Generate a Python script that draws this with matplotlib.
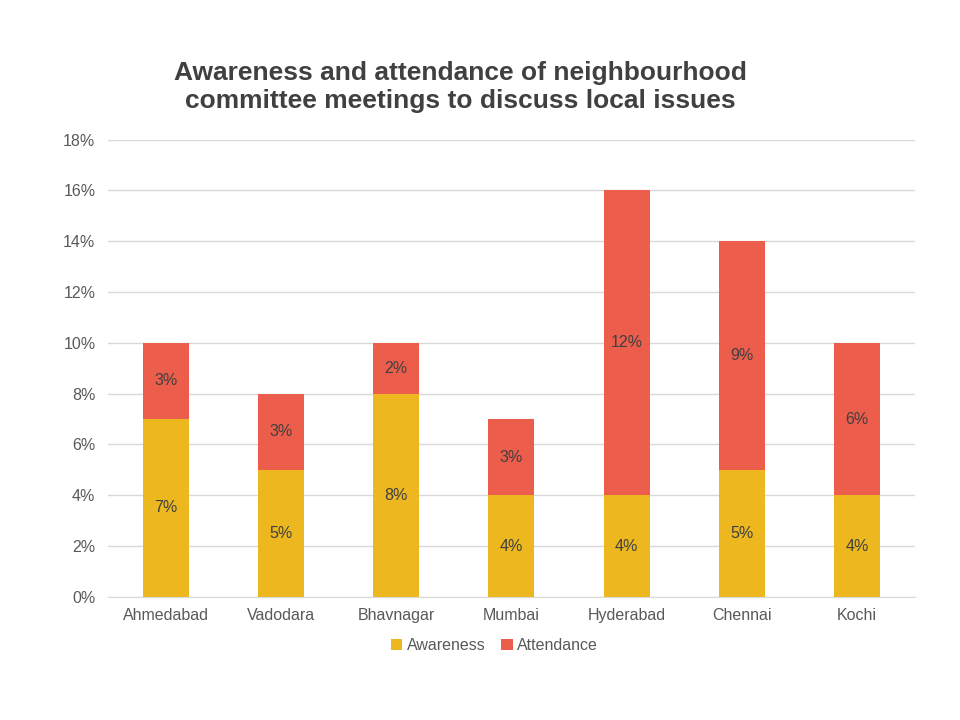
import matplotlib
matplotlib.use('Agg')
import matplotlib.pyplot as plt
import numpy as np

plt.rcParams['font.family'] = ['Liberation Sans', 'DejaVu Sans']

# Data
cities = ['Ahmedabad', 'Vadodara', 'Bhavnagar', 'Mumbai', 'Hyderabad', 'Chennai', 'Kochi']
awareness = [7, 5, 8, 4, 4, 5, 4]
attendance = [3, 3, 2, 3, 12, 9, 6]

aw_color = '#EDB81F'
at_color = '#EC5D4B'
text_color = '#404040'

fig = plt.figure(figsize=(9.6, 7.2), dpi=100)
ax = fig.add_axes([0.1125, 0.171, 0.8405, 0.635])

x = np.arange(len(cities))
width = 0.4
b1 = ax.bar(x, awareness, width, color=aw_color, label='Awareness', zorder=3)
b2 = ax.bar(x, attendance, width, bottom=awareness, color=at_color, label='Attendance', zorder=3)

# Value labels in the middle of each segment
for i in range(len(cities)):
    ax.text(x[i], awareness[i] / 2, f'{awareness[i]}%', ha='center', va='center',
            fontsize=11.5, color=text_color, zorder=4)
    ax.text(x[i], awareness[i] + attendance[i] / 2, f'{attendance[i]}%', ha='center',
            va='center', fontsize=11.5, color=text_color, zorder=4)

ax.set_xlim(-0.5, len(cities) - 0.5)
ax.set_ylim(0, 18)
ax.set_yticks(range(0, 19, 2))
ax.set_yticklabels([f'{v}%' for v in range(0, 19, 2)])
ax.set_xticks(x)
ax.set_xticklabels(cities)
ax.tick_params(axis='both', length=0, labelsize=11.5, labelcolor='#595959')
ax.tick_params(axis='x', pad=8)
ax.tick_params(axis='y', pad=9)
ax.grid(axis='y', color='#D9D9D9', linewidth=1, zorder=0)

for side in ['top', 'right', 'left']:
    ax.spines[side].set_visible(False)
ax.spines['bottom'].set_color('#D9D9D9')

fig.text(0.48, 0.879, 'Awareness and attendance of neighbourhood\ncommittee meetings to discuss local issues',
         ha='center', va='center', fontsize=19, fontweight='bold', color=text_color,
         linespacing=1.25)

fig.legend(handles=[b1, b2], loc='center', bbox_to_anchor=(0.515, 0.103), ncol=2,
           frameon=False, fontsize=11.5, handlelength=0.7, handleheight=0.7,
           handletextpad=0.3, columnspacing=1.0, labelcolor='#595959')

plt.savefig('out.png', dpi=100)
